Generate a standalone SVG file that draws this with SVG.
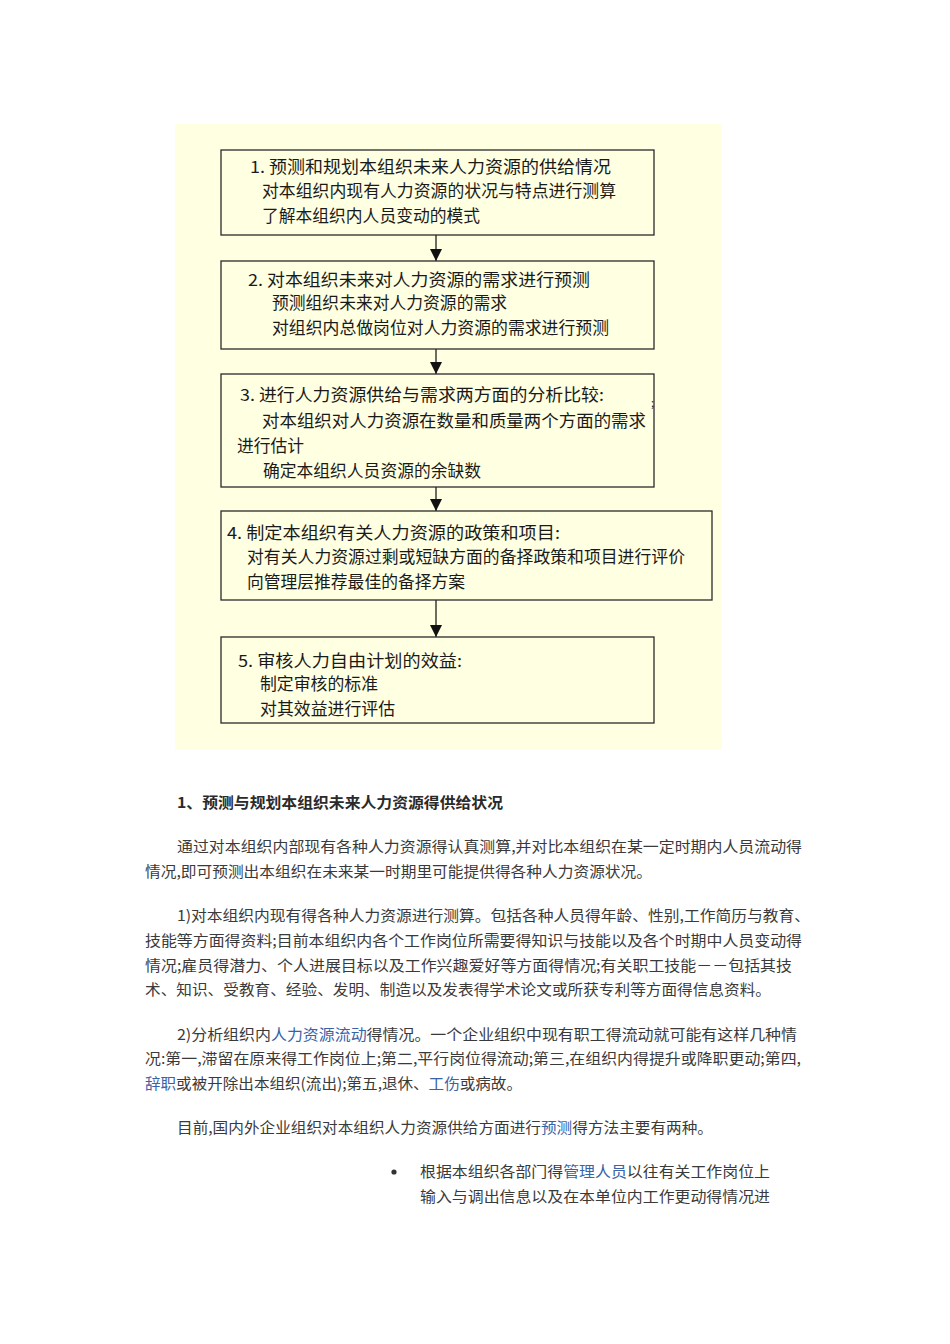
<svg xmlns="http://www.w3.org/2000/svg" width="950" height="1344" viewBox="0 0 950 1344">
<style>
.bg{fill:#FFFFE1}
.box{fill:none;stroke:#2a2a2a;stroke-width:1.3}
.bt{font-family:"Noto Sans CJK SC","Liberation Sans",sans-serif;font-size:16.5px;fill:#1a1a1a}
.p{font-family:"Noto Sans CJK SC","Liberation Sans",sans-serif;font-size:15px;fill:#3a3a3a}
.h{font-family:"Noto Sans CJK SC","Liberation Sans",sans-serif;font-size:15px;font-weight:bold;fill:#2a2a2a}
.lk{fill:#3863a8}
.con{stroke:#1e1e1e;stroke-width:1.3;fill:none}
</style>
<defs>
<marker id="ah" viewBox="0 -6 12 12" refX="12" refY="0" markerWidth="12" markerHeight="12" markerUnits="userSpaceOnUse" orient="auto">
<path d="M0,-6 L12,0 L0,6 z" fill="#111"/>
</marker>
</defs>
<rect width="950" height="1344" fill="#ffffff"/>
<rect class="bg" x="175" y="124" width="547" height="626"/>

<g id="connectors">
<line class="con" x1="436" y1="235" x2="436" y2="261" marker-end="url(#ah)"/>
<line class="con" x1="436" y1="349" x2="436" y2="374" marker-end="url(#ah)"/>
<line class="con" x1="436" y1="487" x2="436" y2="511" marker-end="url(#ah)"/>
<line class="con" x1="436" y1="600" x2="436" y2="637" marker-end="url(#ah)"/>
</g>

<g id="node1">
<rect class="box" x="221" y="150" width="433" height="85"/>
<text class="bt" x="250" y="173" textLength="361" lengthAdjust="spacingAndGlyphs">1. 预测和规划本组织未来人力资源的供给情况</text>
<text class="bt" x="262" y="197" textLength="354" lengthAdjust="spacingAndGlyphs">对本组织内现有人力资源的状况与特点进行测算</text>
<text class="bt" x="262" y="222" textLength="218" lengthAdjust="spacingAndGlyphs">了解本组织内人员变动的模式</text>
</g>

<g id="node2">
<rect class="box" x="221" y="261" width="433" height="88"/>
<text class="bt" x="248" y="286" textLength="342" lengthAdjust="spacingAndGlyphs">2. 对本组织未来对人力资源的需求进行预测</text>
<text class="bt" x="272" y="309" textLength="235" lengthAdjust="spacingAndGlyphs">预测组织未来对人力资源的需求</text>
<text class="bt" x="272" y="334" textLength="337" lengthAdjust="spacingAndGlyphs">对组织内总做岗位对人力资源的需求进行预测</text>
</g>

<g id="node3">
<rect class="box" x="221" y="374" width="433" height="113"/>
<text class="bt" x="240" y="401" textLength="364" lengthAdjust="spacingAndGlyphs">3. 进行人力资源供给与需求两方面的分析比较:</text>
<text class="bt" x="262" y="427" textLength="384" lengthAdjust="spacingAndGlyphs">对本组织对人力资源在数量和质量两个方面的需求</text>
<text class="bt" x="237" y="452" textLength="67" lengthAdjust="spacingAndGlyphs">进行估计</text>
<text class="bt" x="263" y="477" textLength="218" lengthAdjust="spacingAndGlyphs">确定本组织人员资源的余缺数</text>
<text class="bt" x="651" y="407" style="font-size:11px">;</text>
</g>

<g id="node4">
<rect class="box" x="221" y="511" width="491" height="89"/>
<text class="bt" x="227" y="539" textLength="333" lengthAdjust="spacingAndGlyphs">4. 制定本组织有关人力资源的政策和项目:</text>
<text class="bt" x="247" y="563" textLength="438" lengthAdjust="spacingAndGlyphs">对有关人力资源过剩或短缺方面的备择政策和项目进行评价</text>
<text class="bt" x="247" y="588" textLength="218" lengthAdjust="spacingAndGlyphs">向管理层推荐最佳的备择方案</text>
</g>

<g id="node5">
<rect class="box" x="221" y="637" width="433" height="86"/>
<text class="bt" x="238" y="667" textLength="224" lengthAdjust="spacingAndGlyphs">5. 审核人力自由计划的效益:</text>
<text class="bt" x="260" y="690" textLength="118" lengthAdjust="spacingAndGlyphs">制定审核的标准</text>
<text class="bt" x="260" y="715" textLength="135" lengthAdjust="spacingAndGlyphs">对其效益进行评估</text>
</g>

<g id="body">
<text class="h" x="177" y="808" textLength="326" lengthAdjust="spacingAndGlyphs">1、预测与规划本组织未来人力资源得供给状况</text>
<text class="p" x="177" y="852" textLength="625" lengthAdjust="spacingAndGlyphs">通过对本组织内部现有各种人力资源得认真测算,并对比本组织在某一定时期内人员流动得</text>
<text class="p" x="145" y="877" textLength="507" lengthAdjust="spacingAndGlyphs">情况,即可预测出本组织在未来某一时期里可能提供得各种人力资源状况。</text>

<text class="p" x="177" y="921" textLength="633" lengthAdjust="spacingAndGlyphs">1)对本组织内现有得各种人力资源进行测算。包括各种人员得年龄、性别,工作简历与教育、</text>
<text class="p" x="145" y="946" textLength="657" lengthAdjust="spacingAndGlyphs">技能等方面得资料;目前本组织内各个工作岗位所需要得知识与技能以及各个时期中人员变动得</text>
<text class="p" x="145" y="971" textLength="647" lengthAdjust="spacingAndGlyphs">情况;雇员得潜力、个人进展目标以及工作兴趣爱好等方面得情况;有关职工技能－－包括其技</text>
<text class="p" x="145" y="995" textLength="626" lengthAdjust="spacingAndGlyphs">术、知识、受教育、经验、发明、制造以及发表得学术论文或所获专利等方面得信息资料。</text>

<text class="p" x="177" y="1040" textLength="620" lengthAdjust="spacingAndGlyphs">2)分析组织内<tspan class="lk">人力资源流动</tspan>得情况。一个企业组织中现有职工得流动就可能有这样几种情</text>
<text class="p" x="145" y="1064" textLength="656" lengthAdjust="spacingAndGlyphs">况:第一,滞留在原来得工作岗位上;第二,平行岗位得流动;第三,在组织内得提升或降职更动;第四,</text>
<text class="p" x="145" y="1089" textLength="377" lengthAdjust="spacingAndGlyphs"><tspan class="lk">辞职</tspan>或被开除出本组织(流出);第五,退休、<tspan class="lk">工伤</tspan>或病故。</text>

<text class="p" x="177" y="1133" textLength="536" lengthAdjust="spacingAndGlyphs">目前,国内外企业组织对本组织人力资源供给方面进行<tspan class="lk">预测</tspan>得方法主要有两种。</text>

<circle cx="394" cy="1172" r="2.6" fill="#333"/>
<text class="p" x="420" y="1177" textLength="350" lengthAdjust="spacingAndGlyphs">根据本组织各部门得<tspan class="lk">管理人员</tspan>以往有关工作岗位上</text>
<text class="p" x="420" y="1202" textLength="350" lengthAdjust="spacingAndGlyphs">输入与调出信息以及在本单位内工作更动得情况进</text>
</g>
</svg>
